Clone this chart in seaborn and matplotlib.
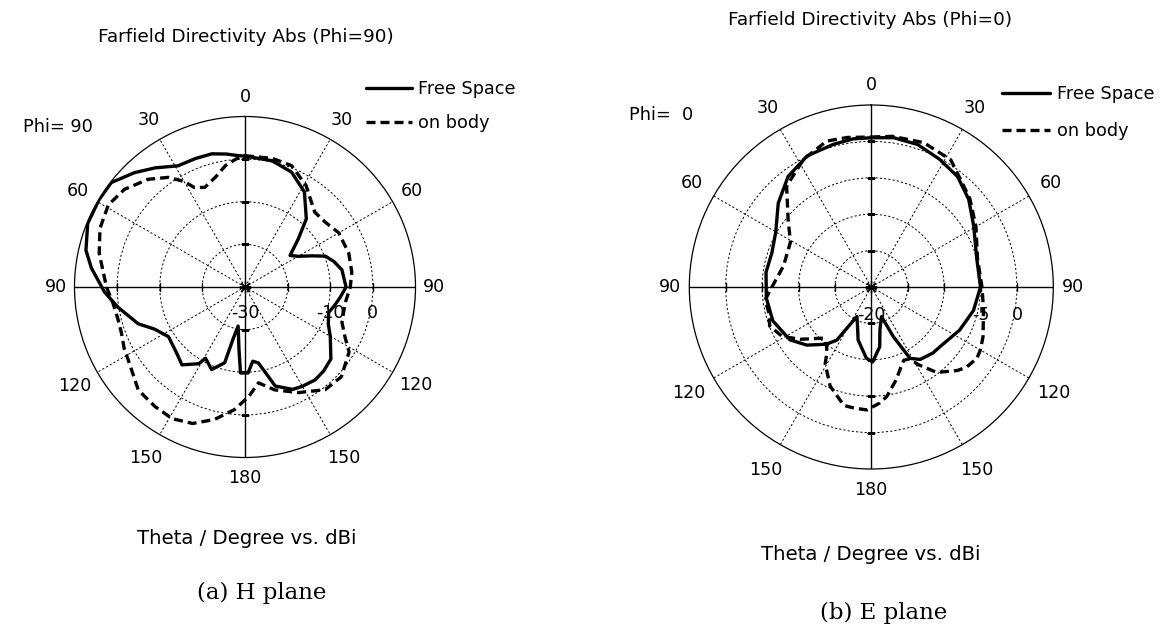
import numpy as np
import pandas as pd
import matplotlib
matplotlib.use("Agg")
import matplotlib.pyplot as plt
import seaborn as sns

# ---------------- data (theta position in degrees, clockwise from top; directivity in dBi) ----------------
h_free_theta = [0, 12, 22, 32, 42, 48, 55, 60, 65, 69, 74, 80, 90, 96, 102, 107, 114, 120, 130, 137,
                143, 150, 155, 163, 170, 174, 178, 183, 185.5, 190, 193, 195, 202, 209, 211, 219, 226,
                237, 245, 251, 261, 268, 277, 283, 292, 301, 308, 316, 323, 331, 339, 346, 352, 357, 360]
h_free_dbi = [0.7, 0.3, -0.9, -3.7, -8.5, -13.2, -17.1, -15.6, -12.7, -9.8, -8.3, -6.9, -6.3, -7.5, -8.6,
              -9.5, -8.6, -6.9, -3.7, -3.0, -2.7, -3.1, -3.5, -5.7, -11.9, -12.5, -9.8, -9.8, -15.3,
              -20.7, -17.4, -11.6, -9.1, -10.9, -9.0, -6.5, -7.7, -8.6, -6.6, -3.5, 0.2, 3.0, 6.3, 8.3,
              9.8, 9.9, 9.8, 7.3, 5.0, 2.5, 2.3, 2.2, 1.5, 0.86, 0.7]

h_body_theta = [0, 12, 21, 31, 38, 43, 51, 60, 72, 82, 90, 99, 105, 110, 117, 122, 133, 142, 153, 164,
                172, 178, 185, 193, 201, 209, 217, 226, 238, 243, 250, 256, 263, 270, 283, 292, 301,
                309, 318, 325, 330, 333, 338, 345, 351, 356, 360]
h_body_dbi = [0.8, 0.85, 0.5, -2.2, -4.7, -6.0, -5.8, -4.6, -4.4, -4.7, -5.3, -6.2, -6.1, -5.8, -3.6,
              -1.2, 0.9, 0.56, -2.2, -4.9, -7.3, -4.3, -1.1, 1.9, 4.3, 5.3, 5.1, 4.8, 2.3, 1.8, 0.9,
              0.75, 1.2, 2.5, 5.1, 6.7, 7.4, 6.4, 4.0, 1.4, -1.4, -3.8, -4.8, -3.3, -1.1, 0.1, 0.8]

e_free_theta = [0, 8.5, 18, 28, 38, 48, 59, 75, 90, 103, 116, 131, 137, 146, 151.5, 156, 161, 168.6,
                172, 179, 184, 194, 199, 206, 213, 218, 222, 228, 237, 251, 264, 278, 289, 300, 312,
                323, 334, 345, 353, 360]
e_free_dbi = [0.5, 0.74, 0.58, -0.1, -0.75, -2.0, -3.6, -5.0, -5.0, -5.6, -6.5, -7.5, -7.6, -8.0, -8.85,
              -12.5, -15.7, -14.0, -11.7, -9.7, -10.2, -12.5, -14.2, -15.5, -11.3, -10.05, -9.36,
              -8.07, -6.67, -5.7, -5.5, -5.4, -5.56, -4.85, -2.8, -1.0, 0.05, 0.27, 0.5, 0.5]

e_body_theta = [0, 8, 20, 32, 48, 60, 75, 90, 101, 114, 120, 124, 130, 134, 142.5, 148.7, 152, 156,
                160, 165, 172, 176, 182, 188, 193, 202.5, 211, 214, 217, 223, 233.6, 241, 249, 256,
                263, 270, 283.5, 299, 309, 320, 332, 343, 351, 360]
e_body_dbi = [0.6, 0.9, 1.1, 0.6, -1.8, -3.4, -4.9, -4.8, -4.3, -3.2, -2.7, -2.5, -2.9, -3.5, -5.2,
              -7.5, -8.8, -9.0, -8.2, -6.8, -4.8, -4.0, -3.1, -3.2, -3.3, -5.25, -7.7, -9.1, -9.8,
              -10.4, -7.9, -6.0, -5.05, -5.5, -5.3, -6.35, -7.6, -7.3, -5.3, -1.9, -0.15, 0.96, 0.8, 0.6]

series_names = ["Free Space", "on body"]
theta_tick_angles = [0, 30, 60, 90, 120, 150, 180, 210, 240, 270, 300, 330]
theta_tick_labels = ["0", "30", "60", "90", "120", "150", "180", "150", "120", "90", "60", "30"]

h_rlim = (-30, 10)
h_rgrid = [-20, -10, 0]
h_rlabels = [(-30, "-30"), (-10, "-10"), (0, "0")]
e_rlim = (-20, 5)
e_rgrid = [-15, -10, -5, 0]
e_rlabels = [(-20, "-20"), (-5, "-5"), (0, "0")]

# distance (px) of the angle-label centres outside the outer ring
h_label_gap = [19.5, 22, 22, 18.5, 26.5, 27.5, 20.5, 27.5, 26.5, 18.5, 22, 22]
e_label_gap = [20, 25, 25, 19.5, 29, 29, 21, 29, 29, 19.5, 25, 25]

# ---------------- style ----------------
sns.set_style("white")
plt.rcParams["font.family"] = ["DejaVu Sans"]
plt.rcParams["text.color"] = "black"

W, H = 1165, 628
fig = plt.figure(figsize=(W / 100, H / 100), dpi=100)


def fx(x):
    return x / W


def fy(y):
    return 1 - y / H


def panel(rect, free_t, free_r, body_t, body_r, rlim, rgrid, rlabels, label_off, gaps,
          leg_xy, leg_spacing, leg_hl, leg_pad):
    ax = fig.add_axes(rect, projection="polar")
    ax.set_theta_zero_location("N")
    ax.set_theta_direction(-1)
    df = pd.concat([
        pd.DataFrame({"theta": np.deg2rad(free_t), "dbi": free_r, "series": series_names[0]}),
        pd.DataFrame({"theta": np.deg2rad(body_t), "dbi": body_r, "series": series_names[1]}),
    ], ignore_index=True)
    sns.lineplot(data=df, x="theta", y="dbi", style="series", ax=ax, sort=False, estimator=None,
                 color="black", linewidth=2.4, legend=False,
                 dashes={series_names[0]: "", series_names[1]: (2.7, 1.5)}, zorder=5)
    ax.set_xlabel("")
    ax.set_ylabel("")
    ax.set_ylim(*rlim)
    ax.set_thetagrids(theta_tick_angles, [""] * len(theta_tick_angles))
    ax.set_rgrids(rgrid, labels=[""] * len(rgrid))
    ax.grid(True, color="black", linewidth=0.7, linestyle=(0, (2.2, 2.2)))
    ax.spines["polar"].set_color("black")
    ax.spines["polar"].set_linewidth(0.9)
    ax.set_facecolor("white")
    # angle labels, centred just outside the ring
    for ang, lab, gap in zip(theta_tick_angles, theta_tick_labels, gaps):
        a = np.deg2rad(ang)
        ax.annotate(lab, xy=(a, rlim[1]), xytext=(gap * np.sin(a), gap * np.cos(a)),
                    textcoords="offset pixels", ha="center", va="center", fontsize=12.6,
                    annotation_clip=False)
    # solid axis cross
    for ang in [0, 90, 180, 270]:
        ax.axvline(np.deg2rad(ang), color="black", linewidth=1.0, zorder=3)
    # small ticks on the cross at each grid ring
    for ang, mk in [(0, "_"), (180, "_"), (90, "|"), (270, "|")]:
        ax.plot([np.deg2rad(ang)] * len(rgrid), rgrid, linestyle="none", marker=mk,
                markersize=6, color="black", markeredgewidth=1.0, zorder=3)
    # centre mark
    ax.plot([0], [rlim[0]], marker=(8, 2, 0), markersize=9, color="black",
            markeredgewidth=0.9, zorder=4)
    # radial value labels below the horizontal axis
    for r, lab in rlabels:
        ax.annotate(lab, xy=(np.deg2rad(90), r), xytext=(0, -label_off),
                    textcoords="offset pixels", ha="center", va="center", fontsize=12.5,
                    zorder=6)
    lines = ax.get_lines()[:2]
    ax.legend(lines, series_names, loc="upper left", bbox_to_anchor=(fx(leg_xy[0]), fy(leg_xy[1])),
              bbox_transform=fig.transFigure, frameon=False, borderpad=0, borderaxespad=0,
              handlelength=leg_hl, handletextpad=leg_pad, labelspacing=leg_spacing,
              fontsize=12.7)
    return ax


panel([fx(74.5), fy(457.5), 341 / W, 341 / H], h_free_theta, h_free_dbi, h_body_theta, h_body_dbi,
      h_rlim, h_rgrid, h_rlabels, 26, h_label_gap, (366, 80), 0.9, 2.6, 0.34)
panel([fx(689.3), fy(469), 364 / W, 364 / H], e_free_theta, e_free_dbi, e_body_theta, e_body_dbi,
      e_rlim, e_rgrid, e_rlabels, 28, e_label_gap, (1002, 85), 1.1, 2.7, 0.4)

# ---------------- texts ----------------
fig.text(fx(246), fy(37), "Farfield Directivity Abs (Phi=90)", ha="center", va="center", fontsize=13.3)
fig.text(fx(870), fy(20), "Farfield Directivity Abs (Phi=0)", ha="center", va="center", fontsize=13.3)
fig.text(fx(58), fy(127), "Phi= 90", ha="center", va="center", fontsize=12.8)
fig.text(fx(661), fy(115), "Phi=  0", ha="center", va="center", fontsize=12.8)
fig.text(fx(246.5), fy(538), "Theta / Degree vs. dBi", ha="center", va="center", fontsize=14.2)
fig.text(fx(870.5), fy(555), "Theta / Degree vs. dBi", ha="center", va="center", fontsize=14.2)
fig.text(fx(262), fy(593), "(a) H plane", ha="center", va="center", fontsize=16.5, family=["DejaVu Serif"])
fig.text(fx(884), fy(613), "(b) E plane", ha="center", va="center", fontsize=16.5, family=["DejaVu Serif"])

fig.savefig("out.png", dpi=100, facecolor="white")
